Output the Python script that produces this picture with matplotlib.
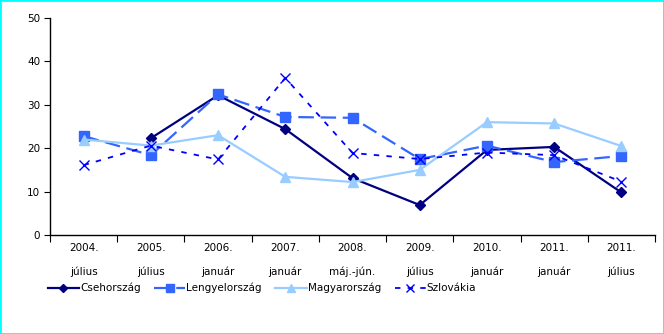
import matplotlib
matplotlib.use("Agg")
import matplotlib.pyplot as plt
import numpy as np

categories = ["2004.\njúlius", "2005.\njúlius", "2006.\njanuár", "2007.\njanuár",
              "2008.\nmáj.-jún.", "2009.\njúlius", "2010.\njanuár", "2011.\njanuár",
              "2011.\njúlius"]
cseh = [np.nan, 22.3, 32.2, 24.4, 13.1, 6.9, 19.6, 20.3, 9.8]
lengyel = [22.8, 18.4, 32.4, 27.2, 27.0, 17.5, 20.6, 16.8, 18.2]
magyar = [22.0, 20.6, 23.0, 13.4, 12.2, 15.0, 26.0, 25.7, 20.5]
szlovak = [16.1, 20.6, 17.4, 36.2, 18.9, 17.5, 19.0, 18.4, 12.3]

plt.rcParams['font.family'] = ['DejaVu Sans']
fig = plt.figure(figsize=(6.64, 3.34), dpi=100)
fig.patch.set_facecolor("white")
fig.patches.append(plt.Rectangle((0, 0), 1, 1, transform=fig.transFigure,
                                 fill=False, edgecolor="#00FFFF", linewidth=2))

ax = fig.add_axes([50/664, (334-235)/334, 605/664, 217/334])
x = np.arange(len(categories))

ax.plot(x, cseh, color="#000080", lw=1.6, marker="D", ms=5.5, label="Csehország")
ax.plot(x, lengyel, color="#3366FF", lw=1.6, ls=(0, (7, 3)), marker="s", ms=6.5,
        label="Lengyelország")
ax.plot(x, magyar, color="#99CCFF", lw=1.6, marker="^", ms=7.5, label="Magyarország")
ax.plot(x, szlovak, color="#0000FF", lw=1.3, ls=(0, (3, 4)), marker="x", ms=7,
        mew=1.0, label="Szlovákia")

ax.set_xlim(-0.5, len(categories) - 0.5)
ax.set_ylim(0, 50)
ax.set_yticks(range(0, 51, 10))
ax.set_xticks(np.arange(-0.5, len(categories), 1.0))
ax.set_xticklabels([])
ax.set_xticks(x, minor=True)
ax.set_xticklabels(categories, minor=True, fontsize=7.5, linespacing=2.5)
ax.tick_params(axis="x", which="minor", length=0, pad=6)
ax.tick_params(axis="x", which="major", length=5, direction="out")
ax.tick_params(axis="y", length=4, labelsize=7.5, pad=3)
for s in ("top", "right"):
    ax.spines[s].set_visible(False)
for s in ("left", "bottom"):
    ax.spines[s].set_color("black")
    ax.spines[s].set_linewidth(1)

fig.legend(loc="center", bbox_to_anchor=(262/664, 1 - 288/334), ncol=4, frameon=False,
           fontsize=7.5, handlelength=3, columnspacing=1.3, handletextpad=0.1,
           markerscale=0.8)

fig.savefig("out.png", dpi=100)
